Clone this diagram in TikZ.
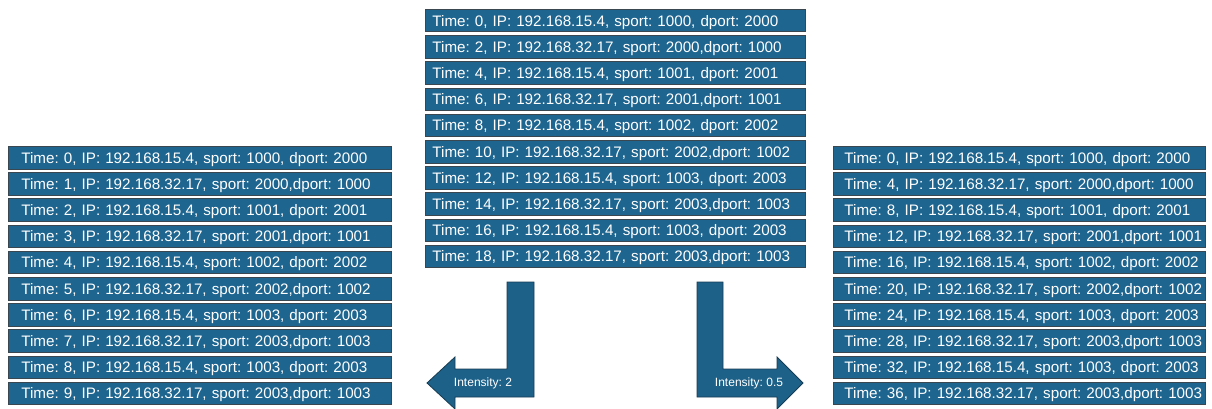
\documentclass[tikz,border=0pt]{standalone}
\usepackage{fontspec}
\setmainfont{Liberation Sans}
\frenchspacing
\definecolor{boxblue}{HTML}{1E6590}
\definecolor{boxedge}{HTML}{3A4650}
\definecolor{arrowblue}{HTML}{1D6189}
\definecolor{arrowedge}{HTML}{173C52}
\newcommand\pkt[4]{Time: #1, IP: \ifodd#2 192.168.32.17, sport: #3,dport: #4\else 192.168.15.4, sport: #3, dport: #4\fi}
\begin{document}
\begin{tikzpicture}[x=1pt,y=-1pt,
  rowbox/.style={draw=boxedge, line width=0.8pt, fill=boxblue, text=white,
    anchor=north west, inner ysep=0pt, inner xsep=0pt, minimum height=22.5pt,
    align=left, font=\fontsize{15.2}{18}\selectfont\frenchspacing},
  bigarrow/.style={fill=arrowblue, draw=arrowedge, line width=0.8pt},
  arrowlabel/.style={text=white, inner sep=0pt, font=\fontsize{12}{14}\selectfont}]
\useasboundingbox (0,0) rectangle (1212,409);
\foreach \k/\sp/\dp in {0/1000/2000,1/2000/1000,2/1001/2001,3/2001/1001,4/1002/2002,5/2002/1002,6/1003/2003,7/2003/1003,8/1003/2003,9/2003/1003}{
  \pgfmathtruncatemacro\tm{2*\k}
  \pgfmathtruncatemacro\tr{4*\k}
  \node[rowbox, text width=383pt] (L\k) at (8,{146+26.2*\k}) {\hspace*{13pt}\pkt{\k}{\k}{\sp}{\dp}};
  \node[rowbox, text width=380pt] (M\k) at (425,{9+26.2*\k}) {\hspace*{7pt}\pkt{\tm}{\k}{\sp}{\dp}};
  \node[rowbox, text width=372pt] (R\k) at (833,{146+26.2*\k}) {\hspace*{11pt}\pkt{\tr}{\k}{\sp}{\dp}};
}
% left arrow
\draw[bigarrow] (507,282) -- (534,282) -- (534,397) -- (455,397) -- (455,409) -- (427,383) -- (455,357) -- (455,369) -- (507,369) -- cycle;
% right arrow
\draw[bigarrow] (697,282) -- (723,282) -- (723,369) -- (777,369) -- (777,357) -- (803,383) -- (777,409) -- (777,397) -- (697,397) -- cycle;
\node[arrowlabel] (lab2) at (483,383) {Intensity: 2};
\node[arrowlabel] (lab05) at (749,383) {Intensity: 0.5};
\end{tikzpicture}
\end{document}
